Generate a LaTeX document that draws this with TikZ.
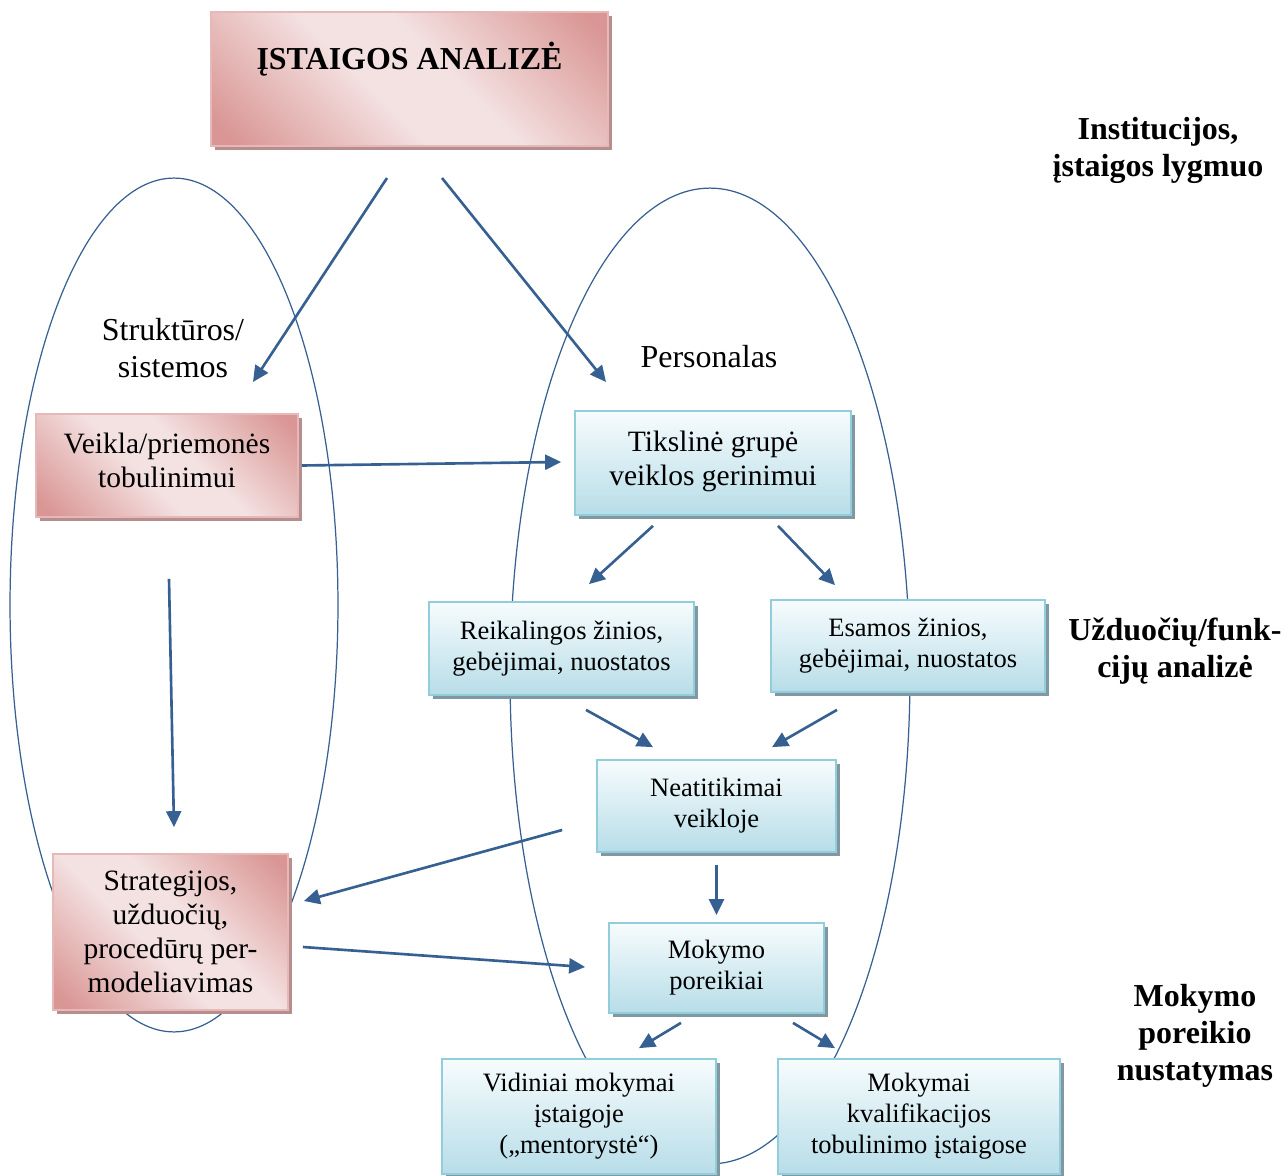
\documentclass[tikz,border=0pt]{standalone}
\usepackage{fontspec}
\setmainfont{Liberation Serif}
\usepackage{tikz}
\usetikzlibrary{arrows.meta,positioning,calc,shadows}

\definecolor{pinkdark}{RGB}{217,150,148}
\definecolor{pinklight}{RGB}{244,226,226}
\definecolor{pinkline}{RGB}{230,185,184}
\definecolor{pinkshadow}{RGB}{182,142,142}
\definecolor{bluetop}{RGB}{247,252,253}
\definecolor{bluebottom}{RGB}{183,221,232}
\definecolor{blueline}{RGB}{146,205,220}
\definecolor{blueshadow}{RGB}{128,152,162}
\definecolor{arrowblue}{RGB}{55,96,146}

\pgfdeclareverticalshading{pinkglow}{100bp}{color(0bp)=(pinkdark); color(18bp)=(pinkdark); color(44bp)=(pinklight); color(56bp)=(pinklight); color(82bp)=(pinkdark); color(100bp)=(pinkdark)}

\begin{document}
\begin{tikzpicture}[
    x=0.02cm, y=-0.02cm,
    pinkbox/.style={
        draw=pinkline,
        line width=1pt,
        shading=pinkglow,
        shading angle=-45,
        align=center,
        drop shadow={shadow xshift=0.08cm,shadow yshift=-0.08cm,fill=pinkshadow,opacity=1},
    },
    bluebox/.style={
        draw=blueline,
        line width=1pt,
        top color=bluetop,
        bottom color=bluebottom,
        align=center,
        drop shadow={shadow xshift=0.08cm,shadow yshift=-0.08cm,fill=blueshadow,opacity=1},
    },
    bigtext/.style={font=\fontsize{16.8}{19.4}\selectfont},
    smalltext/.style={font=\fontsize{15.1}{17.6}\selectfont},
    lvl/.style={align=center, font=\fontsize{18.2}{21}\selectfont\bfseries},
    side/.style={align=center, font=\fontsize{18.2}{21}\selectfont},
    ring/.style={draw=arrowblue, line width=0.7pt},
    flow/.style={
        -{Triangle[length=0.32cm,width=0.3cm]},
        draw=arrowblue,
        line width=1.5pt,
    },
]
\useasboundingbox (0,0) rectangle (1286,1176);

% the two groups
\draw[ring] (174,605) ellipse [x radius=3.28cm, y radius=8.54cm];
\draw[ring] (710,676) ellipse [x radius=4.0cm, y radius=9.76cm];

\node[pinkbox, minimum width=7.94cm, minimum height=2.68cm,
      font=\fontsize{18.2}{21}\selectfont\bfseries,
      text height=0.45cm, text depth=0.81cm] (analize) at (409.5,79) {ĮSTAIGOS ANALIZĖ};

\node[pinkbox, bigtext, minimum width=5.24cm, minimum height=2.06cm,
      text depth=0.2cm] (veikla) at (167,465.5) {%
    Veikla/priemonės\\tobulinimui};
\node[pinkbox, bigtext, minimum width=4.70cm, minimum height=3.12cm] (strat) at (170.5,932) {%
    Strategijos,\\užduočių,\\procedūrų per-\\modeliavimas};

\node[bluebox, bigtext, minimum width=5.52cm, minimum height=2.08cm,
      text depth=0.2cm] (tiks) at (713,463) {%
    Tikslinė grupė\\veiklos gerinimui};
\node[bluebox, smalltext, minimum width=5.30cm, minimum height=1.86cm] (reik) at (561.5,648.5) {%
    Reikalingos žinios,\\gebėjimai, nuostatos};
\node[bluebox, smalltext, minimum width=5.48cm, minimum height=1.84cm] (esam) at (908,646) {%
    Esamos žinios,\\gebėjimai, nuostatos};
\node[bluebox, smalltext, minimum width=4.78cm, minimum height=1.84cm] (neat) at (716.5,806) {%
    Neatitikimai\\veikloje};
\node[bluebox, smalltext, minimum width=4.30cm, minimum height=1.80cm] (mokpor) at (716.5,968) {%
    Mokymo\\poreikiai};
\node[bluebox, smalltext, minimum width=5.48cm, minimum height=2.30cm] (vid) at (579,1116.5) {%
    Vidiniai mokymai\\įstaigoje\\(„mentorystė“)};
\node[bluebox, smalltext, minimum width=5.64cm, minimum height=2.30cm] (mokkv) at (919,1116.5) {%
    Mokymai\\kvalifikacijos\\tobulinimo įstaigose};

\node[side] (strukt) at (173,348) {Struktūros/\\sistemos};
\node[side] (person) at (709,357) {Personalas};

\node[lvl] (inst) at (1158,150) {Institucijos,\\įstaigos lygmuo};
\node[lvl] (uzd) at (1175,651) {Užduočių/funk-\\cijų analizė};
\node[lvl] (mokpn) at (1195,1036) {Mokymo\\poreikio\\nustatymas};

\draw[flow] ($(analize.center)+(-22.5,99)$) -- ($(strukt.center)+(80,34)$);
\draw[flow] ($(analize.center)+(32.5,99)$) -- ($(person.center)+(-103,25)$);
\draw[flow] ($(veikla.east)+(3,0)$) -- ($(tiks.west)+(-13,-1)$);
\draw[flow] ($(veikla.south)+(2,61)$) -- ($(strat.north)+(3.5,-26)$);
\draw[flow] ($(tiks.south)+(-60,10)$) -- ($(reik.north)+(27.5,-17)$);
\draw[flow] ($(tiks.south)+(65,10)$) -- ($(esam.north)+(-73,-14)$);
\draw[flow] ($(reik.south)+(24.5,14)$) -- ($(neat.north)+(-63.5,-12)$);
\draw[flow] ($(esam.south)+(-71,17)$) -- ($(neat.north)+(55.5,-12)$);
\draw[flow] ($(neat.south)+(0,12)$) -- ($(mokpor.north)+(0,-7)$);
\draw[flow] ($(neat.west)+(-34,24)$) -- ($(strat.east)+(15,-31)$);
\draw[flow] ($(strat.east)+(14,15)$) -- ($(mokpor.west)+(-23,-1)$);
\draw[flow] ($(mokpor.south)+(-35.5,9)$) -- ($(vid.north)+(60,-10)$);
\draw[flow] ($(mokpor.south)+(76.5,9)$) -- ($(mokkv.north)+(-84,-10)$);
\end{tikzpicture}
\end{document}
